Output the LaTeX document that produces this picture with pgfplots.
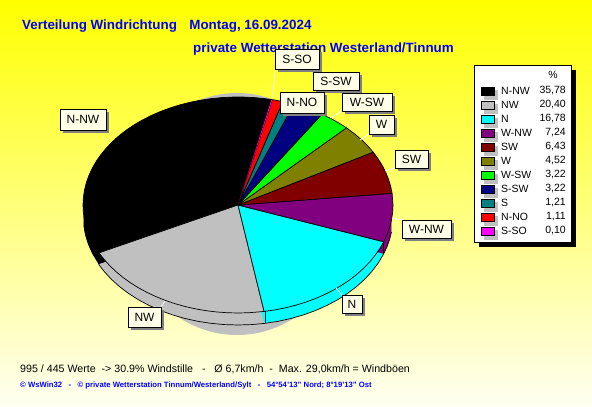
\documentclass[border=0pt]{standalone}
\usepackage{fontspec}
\setmainfont{Liberation Sans}
\usepackage{pgfplots}
\usepackage{pgfplotstable}
\pgfplotsset{compat=1.18}

\definecolor{wnw}{HTML}{800080}
\definecolor{sw}{HTML}{800000}
\definecolor{w}{HTML}{808000}
\definecolor{wsw}{HTML}{00FF00}
\definecolor{ssw}{HTML}{000080}
\definecolor{s}{HTML}{008080}
\definecolor{nno}{HTML}{FF0000}
\definecolor{sso}{HTML}{FF00FF}
\definecolor{nw}{HTML}{C0C0C0}
\definecolor{n}{HTML}{00FFFF}
\definecolor{nnw}{HTML}{000000}
\definecolor{cream}{HTML}{FFFFE8}
\definecolor{bluetxt}{HTML}{0000FF}

% rim of the pie, angle / radius (side walls)
\pgfplotstableread{
a r
0 0
185 1
190 1
195 1
200 1
206 1
0 0
}\wallblack
\pgfplotstableread{
a r
0 0
206 1
210 1
215 1
220 1
225 1
230 1
235 1
240 1
245 1
250 1
255 1
260 1
265 1
270 1
275 1
279.7 1
0 0
}\wallgray
\pgfplotstableread{
a r
0 0
279.7 1
285 1
290 1
295 1
300 1
305 1
310 1
315 1
320 1
325 1
330 1
335 1
340.1 1
0 0
}\wallcyan
\pgfplotstableread{
a r
0 0
340.1 1
344 1
348 1
352 1
0 0
}\wallpurple

% box with drop shadow: x1,y1,x2,y2,text
\newcommand\lab[5]{%
  \fill[black!50] (#1+3,#2+3) rectangle (#3+3,#4+3);
  \draw[black,line width=0.8pt,fill=cream] (#1,#2) rectangle (#3,#4);
  \node[inner sep=0pt,font=\fontsize{12}{12}\selectfont] at ({(#1+#3)/2},{(#2+#4)/2}) {#5};
}
% legend row: y, colour, name, value
\newcommand\leg[4]{%
  \fill[nw] (484,#1-1) rectangle (498,#1+9);
  \draw[black,line width=0.8pt,fill=#2] (481,#1-4) rectangle (494,#1+4);
  \node[anchor=west,inner sep=0pt,font=\fontsize{10.5}{10.5}\selectfont] at (501,#1) {#3};
  \node[anchor=east,inner sep=0pt,font=\fontsize{10.5}{10.5}\selectfont] at (566,#1) {#4};
}

\begin{document}
\begin{tikzpicture}[x=1pt,y=-1pt]
\shade[top color=yellow,bottom color=yellow!5!white] (0,0) rectangle (592,407);
% gray shadow behind the pie
\fill[nw] (237,214) ellipse [x radius=112,y radius=121];

\begin{axis}[
  at={(0pt,-407pt)},anchor=south west,
  scale only axis,width=592pt,height=407pt,
  xmin=-1.5355,xmax=2.2839,ymin=-1.8704,ymax=1.8981,
  hide axis,clip=false,no marks
]
% side walls
\pgfplotsinvokeforeach{1,2,3,4,5,6,7,8,9,10,11,12}{
  \addplot[fill=nnw,draw=none,data cs=polar,yshift=-#1pt] table[x=a,y=r] {\wallblack};
  \addplot[fill=nw,draw=none,data cs=polar,yshift=-#1pt] table[x=a,y=r] {\wallgray};
  \addplot[fill=n,draw=none,data cs=polar,yshift=-#1pt] table[x=a,y=r] {\wallcyan};
  \addplot[fill=wnw,draw=none,data cs=polar,yshift=-#1pt] table[x=a,y=r] {\wallpurple};
}
% lower rim
\addplot[black,line width=0.7pt,data cs=polar,yshift=-12pt] coordinates {(206,1)(210,1)(215,1)(220,1)(225,1)(230,1)(235,1)(240,1)(245,1)(250,1)(255,1)(260,1)(265,1)(270,1)(275,1)(280,1)(285,1)(290,1)(295,1)(300,1)(305,1)(310,1)(315,1)(320,1)(325,1)(330,1)(335,1)(340,1)(344,1)(348,1)(352,1)};
\addplot[black,line width=0.7pt] coordinates {(0.174,-0.985)(0.174,-1.096)};
\addplot[black,line width=0.7pt] coordinates {(0.940,-0.342)(0.940,-0.453)};
\addplot[black,line width=0.7pt] coordinates {(-0.899,-0.438)(-0.899,-0.549)};
% top of the pie, shares 35,78 20,40 16,78 7,24 6,43 4,52 3,22 3,22 1,21 1,11 0,10
\addplot[fill=nnw,draw=black,line width=0.7pt,data cs=polar] coordinates {(0,0)(77.5,1)(80,1)(84,1)(88,1)(92,1)(96,1)(100,1)(104,1)(108,1)(112,1)(116,1)(120,1)(124,1)(128,1)(132,1)(136,1)(140,1)(144,1)(148,1)(152,1)(156,1)(160,1)(164,1)(168,1)(172,1)(176,1)(180,1)(184,1)(188,1)(192,1)(196,1)(200,1)(204,1)(206.3,1)(0,0)};
\addplot[fill=nw,draw=black,line width=0.7pt,data cs=polar] coordinates {(0,0)(206.3,1)(210,1)(214,1)(218,1)(222,1)(226,1)(230,1)(234,1)(238,1)(242,1)(246,1)(250,1)(254,1)(258,1)(262,1)(266,1)(270,1)(274,1)(279.7,1)(0,0)};
\addplot[fill=n,draw=black,line width=0.7pt,data cs=polar] coordinates {(0,0)(279.7,1)(284,1)(288,1)(292,1)(296,1)(300,1)(304,1)(308,1)(312,1)(316,1)(320,1)(324,1)(328,1)(332,1)(336,1)(340.1,1)(0,0)};
\addplot[fill=wnw,draw=black,line width=0.7pt,data cs=polar] coordinates {(0,0)(340.1,1)(344,1)(348,1)(352,1)(356,1)(360,1)(366.2,1)(0,0)};
\addplot[fill=sw,draw=black,line width=0.7pt,data cs=polar] coordinates {(0,0)(6.2,1)(10,1)(14,1)(18,1)(22,1)(26,1)(29.3,1)(0,0)};
\addplot[fill=w,draw=black,line width=0.7pt,data cs=polar] coordinates {(0,0)(29.3,1)(33,1)(37,1)(41,1)(45.6,1)(0,0)};
\addplot[fill=wsw,draw=black,line width=0.7pt,data cs=polar] coordinates {(0,0)(45.6,1)(49,1)(53,1)(57.2,1)(0,0)};
\addplot[fill=ssw,draw=black,line width=0.7pt,data cs=polar] coordinates {(0,0)(57.2,1)(61,1)(65,1)(68.8,1)(0,0)};
\addplot[fill=s,draw=black,line width=0.7pt,data cs=polar] coordinates {(0,0)(68.8,1)(71,1)(73.2,1)(0,0)};
\addplot[fill=nno,draw=black,line width=0.7pt,data cs=polar] coordinates {(0,0)(73.2,1)(75,1)(77.2,1)(0,0)};
\addplot[fill=sso,draw=none,data cs=polar] coordinates {(0,0)(77.2,1)(77.5,1)(0,0)};
\end{axis}

% leader lines
\draw[white,line width=0.8pt] (275,69)--(273,98);
\draw[white,line width=0.8pt] (342,111)--(330,118);
\draw[white,line width=0.8pt] (369,134)--(360,140);
\draw[white,line width=0.8pt] (395,168)--(385,171);
\draw[white,line width=0.8pt] (402,220)--(392,218);
\draw[white,line width=0.8pt] (342,295)--(336,288);
\draw[white,line width=0.8pt] (161,307)--(165,301);

% titles
\node[anchor=west,inner sep=0pt,text=bluetxt,font=\fontsize{13.4}{13.4}\selectfont\bfseries] at (22,26) {Verteilung Windrichtung\hspace{0.65em} Montag, 16.09.2024};
\node[anchor=west,inner sep=0pt,text=bluetxt,font=\fontsize{13.4}{13.4}\selectfont\bfseries] at (193,49) {private Wetterstation Westerland/Tinnum};

% slice labels
\lab{275}{49}{319}{69}{S-SO}
\lab{313}{72}{359}{90}{S-SW}
\lab{280}{92}{324}{113}{N-NO}
\lab{342}{93}{392}{111}{W-SW}
\lab{369}{115}{394}{134}{W}
\lab{395}{150}{428}{168}{SW}
\lab{402}{220}{451}{238}{W-NW}
\lab{342}{295}{362}{313}{N}
\lab{128}{307}{161}{327}{NW}
\lab{60}{109}{106}{130}{N-NW}

% legend box
\fill[black] (479,70) rectangle (576,247);
\draw[black,line width=0.8pt,fill=white] (474,65) rectangle (571,242);
\node[inner sep=0pt,font=\fontsize{10.5}{10.5}\selectfont] at (553,75) {\%};
\leg{91}{nnw}{N-NW}{35,78}
\leg{105}{nw}{NW}{20,40}
\leg{119}{n}{N}{16,78}
\leg{133}{wnw}{W-NW}{7,24}
\leg{147}{sw}{SW}{6,43}
\leg{161}{w}{W}{4,52}
\leg{175}{wsw}{W-SW}{3,22}
\leg{189}{ssw}{S-SW}{3,22}
\leg{203}{s}{S}{1,21}
\leg{217}{nno}{N-NO}{1,11}
\leg{231}{sso}{S-SO}{0,10}

% footer
\node[anchor=west,inner sep=0pt,font=\fontsize{10.65}{11}\selectfont] at (20,369) {995 / 445 Werte\ \ -> 30.9\% Windstille\ \ \ -\ \ \ Ø 6,7km/h\ \ -\ \ Max. 29,0km/h = Windböen};
\node[anchor=west,inner sep=0pt,text=bluetxt,font=\fontsize{7.7}{8}\selectfont\bfseries] at (20,386) {© WsWin32\ \ \ -\ \ \ © private Wetterstation Tinnum/Westerland/Sylt\ \ \ -\ \ \ 54°54'13'' Nord; 8°19'13'' Ost};
\end{tikzpicture}
\end{document}
